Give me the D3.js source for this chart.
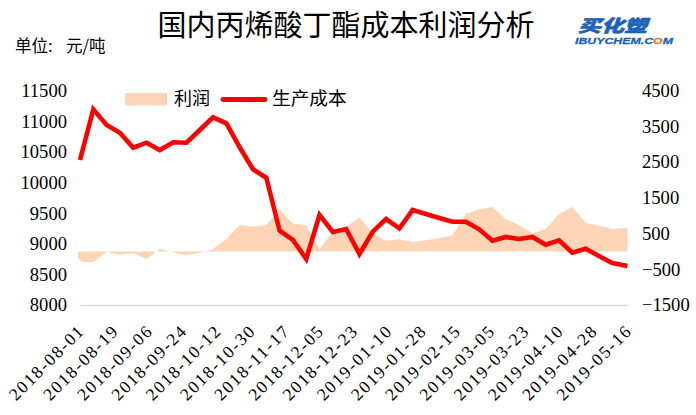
<!DOCTYPE html>
<html><head><meta charset="utf-8">
<script src="https://cdn.jsdelivr.net/npm/d3@7/dist/d3.min.js"></script>
<style>
html,body{margin:0;padding:0;background:#fff}
svg{display:block}
text{fill:#000}
</style></head><body>
<svg id="c" width="696" height="415"></svg>
<script>
const dates=["2018-08-01","2018-08-08","2018-08-15","2018-08-22","2018-08-29","2018-09-05","2018-09-12","2018-09-19","2018-09-26","2018-10-03","2018-10-10","2018-10-17","2018-10-24","2018-10-31","2018-11-07","2018-11-14","2018-11-21","2018-11-28","2018-12-05","2018-12-12","2018-12-19","2018-12-26","2019-01-02","2019-01-09","2019-01-16","2019-01-23","2019-01-30","2019-02-06","2019-02-13","2019-02-20","2019-02-27","2019-03-06","2019-03-13","2019-03-20","2019-03-27","2019-04-03","2019-04-10","2019-04-17","2019-04-24","2019-05-01","2019-05-08","2019-05-16"];
const cost=[10366,11193,10937,10811,10567,10648,10529,10655,10648,10855,11063,10965,10573,10214,10077,9212,9061,8751,9469,9191,9240,8832,9196,9403,9252,9550,9485,9420,9359,9359,9235,9049,9110,9077,9110,8984,9056,8853,8919,8800,8685,8636];
const profitDates=["2018-07-31","2018-08-02"].concat(dates.slice(1));
const profit=[-195,-296,-296,-17,-92,-45,-213,67,-25,-109,-36,59,355,738,691,738,1177,775,738,67,551,683,954,506,300,338,263,310,366,450,1046,1177,1242,898,738,506,626,1046,1242,803,719,626,663];
const xTicks=["2018-08-01","2018-08-19","2018-09-06","2018-09-24","2018-10-12","2018-10-30","2018-11-17","2018-12-05","2018-12-23","2019-01-10","2019-01-28","2019-02-15","2019-03-05","2019-03-23","2019-04-10","2019-04-28","2019-05-16"];
const leftTicks=[8000,8500,9000,9500,10000,10500,11000,11500];
const rightTicks=[-1500,-500,500,1500,2500,3500,4500];

const serif="Liberation Serif, Times New Roman, serif";
const cjk="Noto Sans CJK SC";
const p=d3.timeParse("%Y-%m-%d"), f=d3.timeFormat("%Y-%m-%d");
const svg=d3.select("#c");
const x=d3.scaleTime().domain([p(dates[0]),p(dates[dates.length-1])]).range([80,627.5]);
const yL=d3.scaleLinear().domain([8000,11500]).range([305,90.5]);
const yR=d3.scaleLinear().domain([-1500,4500]).range([305,90.5]);

svg.append("path").datum(profit).attr("fill","#FBD5B5")
 .attr("d",d3.area().x((d,i)=>x(p(profitDates[i]))).y0(yR(0)).y1(d=>yR(d)));
svg.append("path").datum(cost).attr("fill","none").attr("stroke","#FF0000").attr("stroke-width",4.6).attr("stroke-linejoin","miter")
 .attr("d",d3.line().x((d,i)=>x(p(dates[i]))).y(d=>yL(d)));

const ax=svg.append("g").attr("transform","translate(0,305)")
 .call(d3.axisBottom(x).tickValues(xTicks.map(p)).tickFormat(f).tickSize(0));
ax.attr("font-family",serif).attr("font-size",17.5);
ax.select(".domain").attr("stroke","#D9D9D9").attr("stroke-width",1.4);
ax.selectAll("text")
 .attr("text-anchor","end").attr("textLength",97).attr("lengthAdjust","spacing")
 .attr("dy",0).attr("y",0)
 .attr("transform","translate(4,28) rotate(-45)");

const al=svg.append("g").attr("transform","translate(67,0)").call(d3.axisLeft(yL).tickValues(leftTicks).tickFormat(d3.format("d")).tickSize(0).tickPadding(0));
al.attr("font-family",serif).attr("font-size",18.6);
al.select(".domain").remove();

const ar=svg.append("g").attr("transform","translate(642,0)").call(d3.axisRight(yR).tickValues(rightTicks).tickFormat(d3.format("d")).tickSize(0).tickPadding(0));
ar.attr("font-family",serif).attr("font-size",18.6);
ar.select(".domain").remove();

svg.append("text").attr("font-family",cjk).attr("x",346).attr("y",36).attr("text-anchor","middle").attr("font-size",29).text("国内丙烯酸丁酯成本利润分析");
const unit=svg.append("text").attr("font-family",cjk).attr("y",52).attr("font-size",16.5);
unit.append("tspan").attr("x",15).text("单位:");
unit.append("tspan").attr("x",66).text("元/吨");

svg.append("rect").attr("x",125).attr("y",93).attr("width",42).attr("height",12.5).attr("fill","#FBD5B5");
svg.append("text").attr("font-family",cjk).attr("x",174).attr("y",105).attr("font-size",18).text("利润");
svg.append("line").attr("x1",223).attr("x2",265).attr("y1",99.5).attr("y2",99.5).attr("stroke","#FF0000").attr("stroke-width",4.8).attr("stroke-linecap","round");
svg.append("text").attr("font-family",cjk).attr("x",272).attr("y",105).attr("font-size",18.7).text("生产成本");

svg.append("text").attr("x",578).attr("y",31.5).attr("font-size",17).attr("font-weight",900).attr("font-style","italic")
 .attr("style","font-family:'Noto Sans CJK SC';fill:#1A62B8;stroke:#1A62B8;stroke-width:.5").attr("textLength",69).attr("lengthAdjust","spacingAndGlyphs").text("买化塑");
const lg=svg.append("text").attr("x",575).attr("y",44).attr("font-size",9.5).attr("font-weight",700).attr("font-style","italic")
 .attr("style","font-family:'Liberation Sans';fill:#1A62B8;stroke:#1A62B8;stroke-width:.3").attr("textLength",98).attr("lengthAdjust","spacingAndGlyphs");
lg.append("tspan").text("IBUYCHEM.C");
lg.append("tspan").attr("style","fill:#E8791E;stroke:#E8791E").text("O");
lg.append("tspan").text("M");
</script>
</body></html>
